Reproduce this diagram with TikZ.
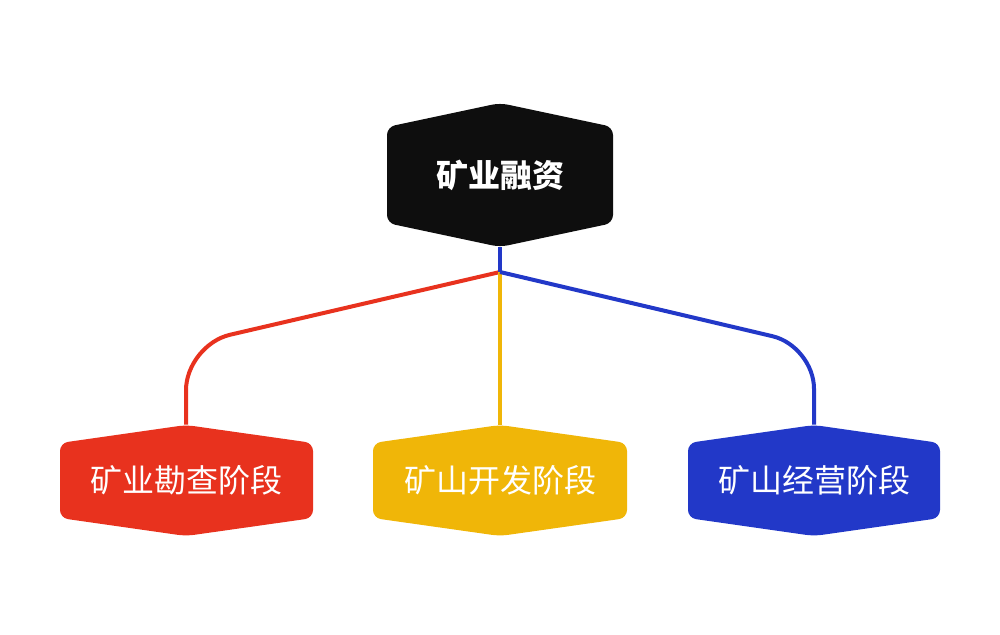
\documentclass[tikz,border=0pt]{standalone}
\usepackage{fontspec}
\newfontfamily\cjk{Noto Sans CJK SC}
\definecolor{cred}{RGB}{232,50,30}
\definecolor{cyel}{RGB}{240,182,8}
\definecolor{cblue}{RGB}{34,56,200}
\definecolor{cblack}{RGB}{14,14,14}
\tikzset{
  lbl/.style={inner sep=0pt, text=white, font=\cjk\fontsize{24}{28}\selectfont},
  conn/.style={line width=3pt, line join=round},
}
\begin{document}
\begin{tikzpicture}[x=0.75pt,y=-0.75pt]
\useasboundingbox (0,0) rectangle (1000,635);
% top hexagon
\fill[cblack, rounded corners=6pt] (500,103) -- (613,127) -- (613,223) -- (500,247) -- (387,223) -- (387,127) -- cycle;
\node[lbl, font=\cjk\bfseries\fontsize{24}{28}\selectfont, minimum height=108pt, minimum width=171pt] (top) at (500,175) {\raisebox{-2pt}{矿业融资}};
% bottom hexagons
\fill[cred, rounded corners=6pt] (186,425) -- (313,443) -- (313,518) -- (186,536) -- (60,518) -- (60,443) -- cycle;
\node[lbl, minimum height=83.25pt, minimum width=189pt] (a) at (186,480.5) {\raisebox{-1pt}{矿业勘查阶段}};
\fill[cyel, rounded corners=6pt] (500,425) -- (627,443) -- (627,518) -- (500,536) -- (373,518) -- (373,443) -- cycle;
\node[lbl, minimum height=83.25pt, minimum width=190pt] (b) at (500,480.5) {\raisebox{-1pt}{矿山开发阶段}};
\fill[cblue, rounded corners=6pt] (814,425) -- (940,443) -- (940,518) -- (814,536) -- (688,518) -- (688,443) -- cycle;
\node[lbl, minimum height=83.25pt, minimum width=189pt] (c) at (814,480.5) {\raisebox{-1pt}{矿山经营阶段}};
% connectors
\coordinate (j) at (500,272);
\draw[conn, cred, rounded corners=34pt] (j) -- (a.north |- 0,345) -- (a.north);
\draw[conn, cyel] (j) -- (b.north);
\draw[conn, cblue, rounded corners=32pt] (j) -- (c.north |- 0,346) -- (c.north);
\draw[conn, cblue] (top.south) -- (j);
\end{tikzpicture}
\end{document}
